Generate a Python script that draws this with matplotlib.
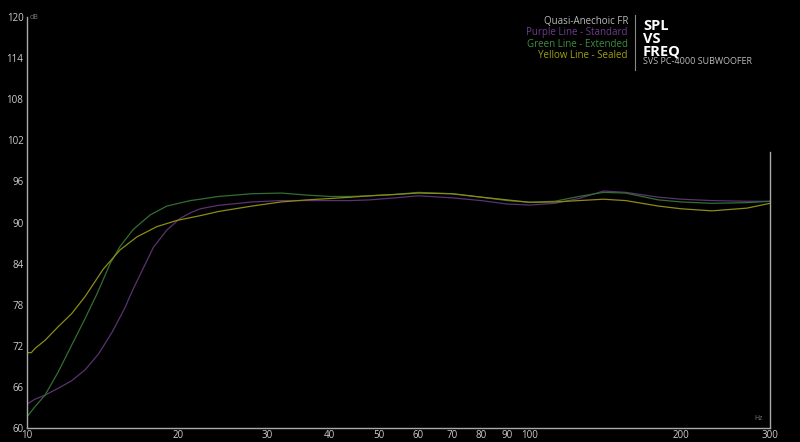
import matplotlib
matplotlib.use('Agg')
import matplotlib.pyplot as plt
from matplotlib.ticker import FixedLocator, NullLocator

plt.rcParams['font.family'] = ['Open Sans', 'DejaVu Sans']

# 그래프에서 읽은 값: 주파수 (Hz), SPL (dB)
purple_f = [10, 10.37, 10.86, 11.54, 12.27, 13.05, 13.87, 14.74, 15.19, 15.67, 16.03, 16.41,
            16.79, 17.84, 18.97, 20.16, 21.11, 22.1, 24, 28, 32, 36, 40, 44, 48, 54, 60, 70,
            80, 90, 100, 112, 125, 140, 155, 180, 200, 230, 270, 300]
purple = [63.5, 64.2, 64.8, 65.8, 66.9, 68.5, 70.8, 73.9, 75.7, 77.6, 79.3, 80.9,
          82.4, 86.4, 88.9, 90.6, 91.4, 92.0, 92.5, 93.0, 93.2, 93.2, 93.2, 93.2, 93.3, 93.6, 93.9, 93.6,
          93.2, 92.7, 92.55, 92.8, 93.5, 94.6, 94.4, 93.7, 93.4, 93.2, 93.1, 93.1]

green_f = [10, 10.37, 10.86, 11.54, 12.27, 13.05, 13.35, 13.76, 13.97, 14.63, 15.31, 16.27,
           17.57, 18.97, 21.11, 22.1, 24, 28, 32, 36, 40, 44, 48, 54, 60, 70, 80, 90, 100,
           112, 125, 140, 155, 180, 200, 230, 270, 300]
green = [61.65, 63.1, 64.8, 68.2, 72.1, 76.0, 77.5, 79.5, 80.6, 84.0, 86.5, 89.0,
         91.1, 92.4, 93.2, 93.4, 93.8, 94.2, 94.3, 94.0, 93.8, 93.8, 93.9, 94.1, 94.4, 94.2, 93.7, 93.2, 92.95,
         93.1, 93.8, 94.4, 94.3, 93.3, 93.0, 92.8, 92.9, 93.1]

yellow_f = [10, 10.2, 10.37, 10.86, 11.54, 12.27, 13.05, 13.35, 14.18, 15.31, 16.54, 18.12,
            19.86, 22.1, 24, 28, 32, 36, 40, 44, 48, 54, 60, 70, 80, 90, 100, 112, 125,
            140, 155, 180, 200, 230, 270, 300]
yellow = [71.0, 71.0, 71.6, 72.8, 74.8, 76.7, 79.2, 80.3, 83.2, 86.0, 87.9, 89.4,
          90.3, 91.0, 91.6, 92.4, 93.0, 93.3, 93.5, 93.7, 93.9, 94.1, 94.3, 94.2, 93.7, 93.3, 92.95, 93.0, 93.2,
          93.4, 93.2, 92.4, 92.0, 91.7, 92.1, 92.8]

xticks = [10, 20, 30, 40, 50, 60, 70, 80, 90, 100, 200, 300]
yticks = [60, 66, 72, 78, 84, 90, 96, 102, 108, 114, 120]

fig = plt.figure(figsize=(8, 4.42), dpi=100, facecolor='black')
ax = fig.add_axes([0.03375, 0.0317, 0.92875, 0.9298])
ax.set_facecolor('black')

ax.plot(purple_f, purple, color='#5b3272', lw=0.9, solid_joinstyle='round')
ax.plot(green_f, green, color='#336e33', lw=0.9, solid_joinstyle='round')
ax.plot(yellow_f, yellow, color='#8c8c14', lw=0.9, solid_joinstyle='round')

ax.set_xscale('log')
ax.set_xlim(10, 300)
ax.set_ylim(60, 120)
ax.xaxis.set_major_locator(FixedLocator(xticks))
ax.xaxis.set_minor_locator(NullLocator())
ax.set_xticklabels([str(t) for t in xticks])
ax.set_yticks(yticks)
ax.tick_params(colors='#cccccc', labelsize=7, length=0)
ax.tick_params(axis='x', pad=1.5)
ax.tick_params(axis='y', pad=2.5)

for s in ['top', 'right']:
    ax.spines[s].set_visible(False)
for s in ['left', 'bottom']:
    ax.spines[s].set_color('#aaaaaa')
    ax.spines[s].set_linewidth(1)
ax.axvline(300, ymin=0, ymax=0.672, color='#aaaaaa', lw=1, clip_on=False)

ax.text(0.004, 1.0, 'dB', transform=ax.transAxes, color='#777777', fontsize=5, va='center')
ax.text(0.99, 0.02, 'Hz', transform=ax.transAxes, color='#777777', fontsize=5, ha='right')

# 범례 텍스트
fig.text(628/800, 1-21/442, 'Quasi-Anechoic FR', color='#bbbbbb', fontsize=7, ha='right', va='center')
fig.text(628/800, 1-33/442, 'Purple Line - Standard', color='#6b3d8a', fontsize=7, ha='right', va='center')
fig.text(628/800, 1-44.5/442, 'Green Line - Extended', color='#3e8e3e', fontsize=7, ha='right', va='center')
fig.text(628/800, 1-56/442, 'Yellow Line - Sealed', color='#a0a010', fontsize=7, ha='right', va='center')
fig.add_artist(plt.Line2D([635/800, 635/800], [1-15/442, 1-70/442], color='#888888', lw=0.8))

fig.text(643/800, 1-19/442, 'SPL\nVS\nFREQ', color='white', fontsize=10.5, fontweight='bold',
         va='top', linespacing=0.88)
fig.text(643/800, 1-61/442, 'SVS PC-4000 SUBWOOFER', color='#bbbbbb', fontsize=6.5, va='center')

fig.savefig('out.png', dpi=100, facecolor='black')
